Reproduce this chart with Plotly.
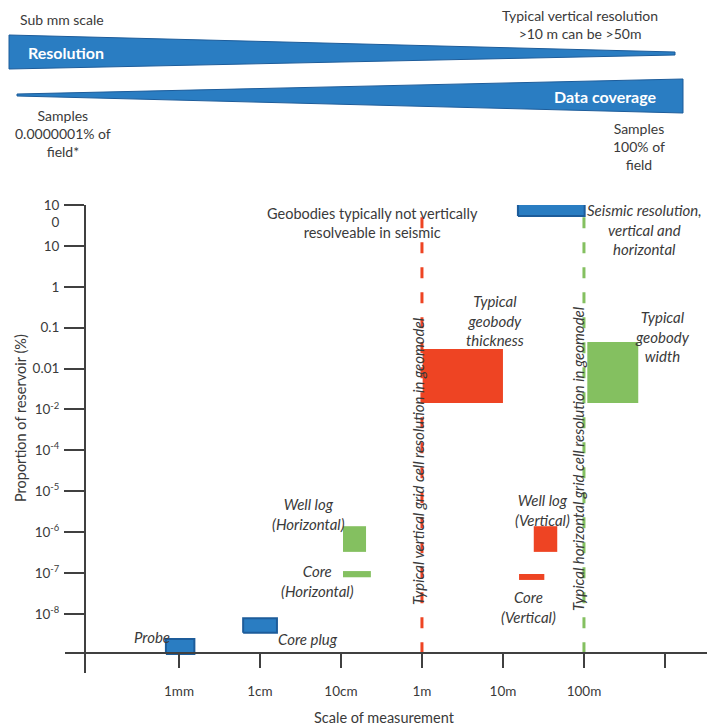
import math
import plotly.graph_objects as go

W, H = 707, 727
FONT = "Lato"
TXT = "#3a3a3a"
AXC = "#404040"
BLUE, BLUE_EDGE = "#2a7dc2", "#1d5c9a"
RED = "#ee4423"
GREEN = "#84c060"

# ---- scale of measurement (m) and proportion of reservoir (%) for each data type ----
probe_x = [0.00069, 0.00155]
probe_y = [1.05e-9, 2.45e-9]
coreplug_x = [0.0062, 0.0162]
coreplug_y = [3.5e-9, 7.9e-9]
welllog_h_x = [0.106, 0.204]
welllog_h_y = [3.3e-7, 1.4e-6]
core_h_x = [0.106, 0.234]
core_h_y = [7.9e-8, 1.12e-7]
thickness_x = [1.02, 10.0]
thickness_y = [1.45e-3, 0.030]
width_x = [110.0, 468.0]
width_y = [1.45e-3, 0.045]
seismic_x = [15.3, 102.0]
seismic_y = [54.0, 112.0]
welllog_v_x = [24.0, 46.8]
welllog_v_y = [3.3e-7, 1.4e-6]
core_v_x = [15.8, 32.4]
core_v_y = [6.8e-8, 9.5e-8]

# geomodel grid-cell resolution lines
vgrid_x, vgrid_y = 1.0, [1.1e-9, 57.0]
hgrid_x, hgrid_y = 100.0, [1.1e-9, 85.0]

# axis ticks
x_tickvals = [0.001, 0.01, 0.1, 1, 10, 100, 1000]
x_ticktext = ["1mm", "1cm", "10cm", "1m", "10m", "100m", ""]
y_tickvals = [100, 10, 1, 0.1, 0.01, 0.001, 1e-4, 1e-5, 1e-6, 1e-7, 1e-8]
y_ticktext = ["&#160;<br>10<br>0", "10", "1", "0.1", "0.01", "10<sup>-2</sup>",
              "10<sup>-4</sup>", "10<sup>-5</sup>", "10<sup>-6</sup>",
              "10<sup>-7</sup>", "10<sup>-8</sup>"]


def px(x):
    return x / W


def py(y):
    return (H - y) / H


fig = go.Figure()


def dashed(xv, yr, color):
    fig.add_trace(go.Scatter(
        x=[xv, xv], y=yr, mode="lines", hoverinfo="skip",
        line=dict(color=color, width=3, dash="11px,14px")))


def box(xr, yr, color, edge=None):
    fig.add_trace(go.Scatter(
        x=[xr[0], xr[1], xr[1], xr[0], xr[0]],
        y=[yr[0], yr[0], yr[1], yr[1], yr[0]],
        mode="lines", fill="toself", fillcolor=color, hoverinfo="skip",
        line=dict(color=edge or color, width=2 if edge else 0)))


dashed(vgrid_x, vgrid_y, RED)
dashed(hgrid_x, hgrid_y, GREEN)

box(probe_x, probe_y, BLUE, BLUE_EDGE)
box(coreplug_x, coreplug_y, BLUE, BLUE_EDGE)
box(seismic_x, seismic_y, BLUE, BLUE_EDGE)
box(welllog_h_x, welllog_h_y, GREEN)
box(core_h_x, core_h_y, GREEN)
box(width_x, width_y, GREEN)
box(thickness_x, thickness_y, RED)
box(welllog_v_x, welllog_v_y, RED)
box(core_v_x, core_v_y, RED)

annotations = []


def label(text, x, y, italic=True, size=15, angle=0):
    annotations.append(dict(
        text=text, x=math.log10(x), y=math.log10(y), xref="x", yref="y",
        showarrow=False, textangle=angle, align="center",
        xanchor="center", yanchor="middle",
        font=dict(family=FONT, size=size, color=TXT,
                  style="italic" if italic else "normal")))


label("Geobodies typically not vertically<br>resolveable in seismic", 0.248, 37.3,
      italic=False, size=14.5)
label("Seismic resolution,<br>vertical and<br>horizontal", 566, 25.2)
label("Typical<br>geobody<br>thickness", 7.96, 0.146)
label("Typical<br>geobody<br>width", 944, 0.0593)
label("Well log<br>(Horizontal)", 0.0403, 2.86e-6)
label("Core<br>(Horizontal)", 0.052, 6.24e-8)
label("Probe", 4.65e-4, 2.74e-9)
label("Core plug", 0.0392, 2.45e-9)
label("Well log<br>(Vertical)", 31.2, 3.49e-6)
label("Core<br>(Vertical)", 20.9, 1.52e-8)
label("Typical vertical grid cell resolution in geomodel", 0.893, 5.5e-5, angle=-90)
label("Typical horizontal grid cell resolution in geomodel", 84.3, 6.5e-5, angle=-90)


def note(text, x, y, size=14, color=TXT, weight="normal", xanchor="center", angle=0):
    annotations.append(dict(
        text=text, x=px(x), y=py(y), xref="paper", yref="paper",
        showarrow=False, align="center", xanchor=xanchor, yanchor="middle",
        textangle=angle,
        font=dict(family=FONT, size=size, color=color, weight=weight)))


note("Sub mm scale", 18, 20, xanchor="left")
note("Typical vertical resolution<br>>10 m can be >50m", 580, 24)
note("Resolution", 26, 53, size=16, color="white", weight="bold", xanchor="left")
note("Data coverage", 605, 97, size=16, color="white", weight="bold")
note("Samples<br>0.0000001% of<br>field*", 63, 133.5)
note("Samples<br>100% of<br>field", 639, 147)
note("Scale of measurement", 384, 717, size=14.5)
note("Proportion of reservoir (%)", 20, 418, size=14.5, angle=-90)


def wedge(pts):
    path = "M " + " L ".join(f"{px(a)},{py(b)}" for a, b in pts) + " Z"
    return dict(type="path", path=path, xref="paper", yref="paper",
                fillcolor=BLUE, line=dict(color=BLUE_EDGE, width=1), layer="below")


shapes = [
    wedge([(9, 35), (675, 52), (675, 55), (9, 69)]),
    wedge([(17, 94), (683, 79), (683, 113), (17, 96)]),
]

fig.update_layout(
    width=W, height=H, margin=dict(l=0, r=0, t=0, b=0),
    paper_bgcolor="white", plot_bgcolor="white", showlegend=False,
    annotations=annotations, shapes=shapes,
    xaxis=dict(type="log", range=[-4.407, 3.519], domain=[px(65), 1],
               anchor="free", position=py(653), automargin=False,
               tickvals=x_tickvals, ticktext=x_ticktext,
               ticks="outside", ticklen=14, tickwidth=2, tickcolor=AXC,
               showline=True, linecolor=AXC, linewidth=2,
               showgrid=False, zeroline=False, ticklabelstandoff=12,
               tickfont=dict(family=FONT, size=13.5, color=TXT)),
    yaxis=dict(type="log", range=[-9.443, 2], domain=[py(673), py(205)],
               anchor="free", position=px(85), automargin=False,
               tickvals=y_tickvals, ticktext=y_ticktext,
               ticks="outside", ticklen=20, tickwidth=2, tickcolor=AXC,
               showline=True, linecolor=AXC, linewidth=2,
               showgrid=False, zeroline=False, ticklabelstandoff=2,
               tickfont=dict(family=FONT, size=13.5, color=TXT)),
)

fig.write_html("out.html")
